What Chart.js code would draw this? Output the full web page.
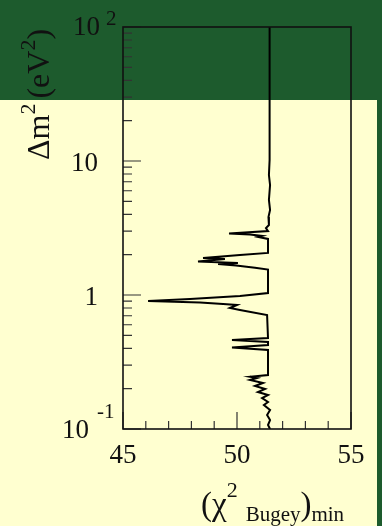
<!DOCTYPE html>
<html>
<head>
<meta charset="utf-8">
<script src="https://cdn.jsdelivr.net/npm/chart.js@4.4.1/dist/chart.umd.min.js"></script>
<style>
  html, body { margin:0; padding:0; background:#ffffd0; }
  #wrap { width:382px; height:526px; position:relative; }
</style>
</head>
<body>
<div id="wrap"><canvas id="chart" width="382" height="526"></canvas></div>
<script>
// (chi2 Bugey)min vs delta m^2 from top to bottom
const chiMin = [
  51.43, 51.43, 51.40, 51.45, 51.40, 51.45, 51.38, 51.40, 51.27, 51.36,
  49.65, 50.57, 51.10, 50.92, 51.36, 51.36, 50.13, 48.51, 49.47, 48.29,
  50.04, 49.17, 49.96, 50.79, 51.36, 51.36, 50.13, 47.94, 46.10, 48.38,
  49.39, 50.00, 49.69, 50.13, 51.32, 51.36, 49.78, 51.36, 51.36, 49.78,
  51.36, 51.36, 50.57, 50.88, 50.57, 51.14, 50.79, 51.23, 50.92, 51.36,
  51.10, 51.36, 51.18, 51.45, 51.32, 51.45, 51.36, 51.45
];
const deltaM2 = [
  100, 10.17, 7.86, 6.62, 5.12, 4.31, 3.82, 3.33, 3.16, 3.00,
  2.88, 2.83, 2.76, 2.71, 2.62, 2.06, 1.99, 1.89, 1.86, 1.78,
  1.73, 1.70, 1.66, 1.60, 1.55, 1.035, 0.983, 0.934, 0.902, 0.879,
  0.857, 0.842, 0.800, 0.773, 0.709, 0.478, 0.462, 0.446, 0.423, 0.406,
  0.389, 0.253, 0.2456, 0.240, 0.232, 0.2205, 0.2094, 0.1989, 0.1889, 0.1794,
  0.1703, 0.159, 0.151, 0.1386, 0.1272, 0.1167, 0.1071, 0.100
];

const xTicks = [45, 50, 55];
const xMinor = [46, 47, 48, 49, 51, 52, 53, 54];
const yDecades = [0.1, 1, 10, 100];
const yLabels = [["10", "-1"], ["1", ""], ["10", ""], ["10", "2"]];

const YELLOW = "#ffffd0";
const GREEN = "#1d5b2d";
const SERIF = "'Liberation Serif', 'DejaVu Serif', serif";

const points = chiMin.map((x, i) => ({ x, y: deltaM2[i] }));

const decor = {
  id: "decor",
  beforeDraw(chart) {
    const c = chart.ctx;
    c.save();
    c.fillStyle = YELLOW;
    c.fillRect(0, 0, chart.width, chart.height);
    c.fillStyle = GREEN;
    c.fillRect(0, 0, chart.width, 100);
    c.fillRect(377, 0, 5, chart.height);
    c.restore();
  },
  afterDraw(chart) {
    const c = chart.ctx;
    const a = chart.chartArea;
    const xs = chart.scales.x, ys = chart.scales.y;
    c.save();

    // ticks inside the frame
    c.strokeStyle = "#333";
    c.lineWidth = 1.2;
    c.beginPath();
    yDecades.forEach((d, i) => {
      const py = ys.getPixelForValue(d);
      c.moveTo(a.left, py); c.lineTo(a.left + 18, py);
      if (i < yDecades.length - 1) {
        for (let k = 2; k <= 9; k++) {
          const my = ys.getPixelForValue(d * k);
          c.moveTo(a.left, my); c.lineTo(a.left + 9, my);
        }
      }
    });
    xTicks.forEach(v => {
      const px = xs.getPixelForValue(v);
      c.moveTo(px, a.bottom); c.lineTo(px, a.bottom - 17);
    });
    xMinor.forEach(v => {
      const px = xs.getPixelForValue(v);
      c.moveTo(px, a.bottom); c.lineTo(px, a.bottom - 8);
    });
    c.stroke();

    // frame
    c.strokeStyle = "#111";
    c.lineWidth = 1.6;
    c.strokeRect(a.left, a.top, a.right - a.left, a.bottom - a.top);

    // tick labels
    c.fillStyle = "#111";
    c.textBaseline = "alphabetic";
    c.font = "27px " + SERIF;
    c.textAlign = "center";
    xTicks.forEach(v => {
      c.fillText(String(v), xs.getPixelForValue(v), 463);
    });

    yDecades.forEach((d, i) => {
      const py = ys.getPixelForValue(d);
      const [base, ex] = yLabels[i];
      c.textAlign = "right";
      c.font = "27px " + SERIF;
      let bx = 98, by = py + 10;
      if (ex === "2") { bx = 100; by = py + 8; }
      if (ex === "-1") { bx = 89; by = py + 9; }
      c.fillText(base, bx, by);
      if (ex) {
        c.textAlign = "left";
        c.font = "21px " + SERIF;
        c.fillText(ex, ex === "2" ? 106 : 97, by - (ex === "2" ? 10 : 20));
      }
    });

    // y title, rotated
    c.save();
    c.translate(49, 160);
    c.rotate(-Math.PI / 2);
    c.textAlign = "left";
    let tx = 0;
    const part = (s, size, dy) => {
      c.font = size + "px " + SERIF;
      c.fillText(s, tx, dy);
      tx += c.measureText(s).width;
    };
    part("\u0394m", 32, 0);
    part("2", 22, -14);
    tx += 5;
    part("(eV", 32, 0);
    part("2", 22, -14);
    part(")", 32, 0);
    c.restore();

    // x title
    c.textAlign = "left";
    tx = 201;
    const xpart = (s, size, y) => {
      c.font = size + "px " + SERIF;
      c.fillText(s, tx, y);
      tx += c.measureText(s).width;
    };
    xpart("(\u03c7", 33, 515);
    xpart("2", 22, 497);
    tx += 8;
    xpart("Bugey", 21, 521);
    xpart(")", 33, 515);
    xpart("min", 21, 521);

    c.restore();
  }
};

new Chart(document.getElementById("chart"), {
  type: "scatter",
  data: {
    datasets: [{
      data: points,
      showLine: true,
      borderColor: "#000",
      borderWidth: 2,
      pointRadius: 0,
      tension: 0,
      fill: false
    }]
  },
  options: {
    responsive: false,
    animation: false,
    layout: { padding: { left: 123, right: 31, top: 27, bottom: 97 } },
    plugins: { legend: { display: false }, tooltip: { enabled: false } },
    scales: {
      x: { type: "linear", min: 45, max: 55, display: false },
      y: { type: "logarithmic", min: 0.1, max: 100, display: false }
    }
  },
  plugins: [decor]
});
</script>
</body>
</html>
